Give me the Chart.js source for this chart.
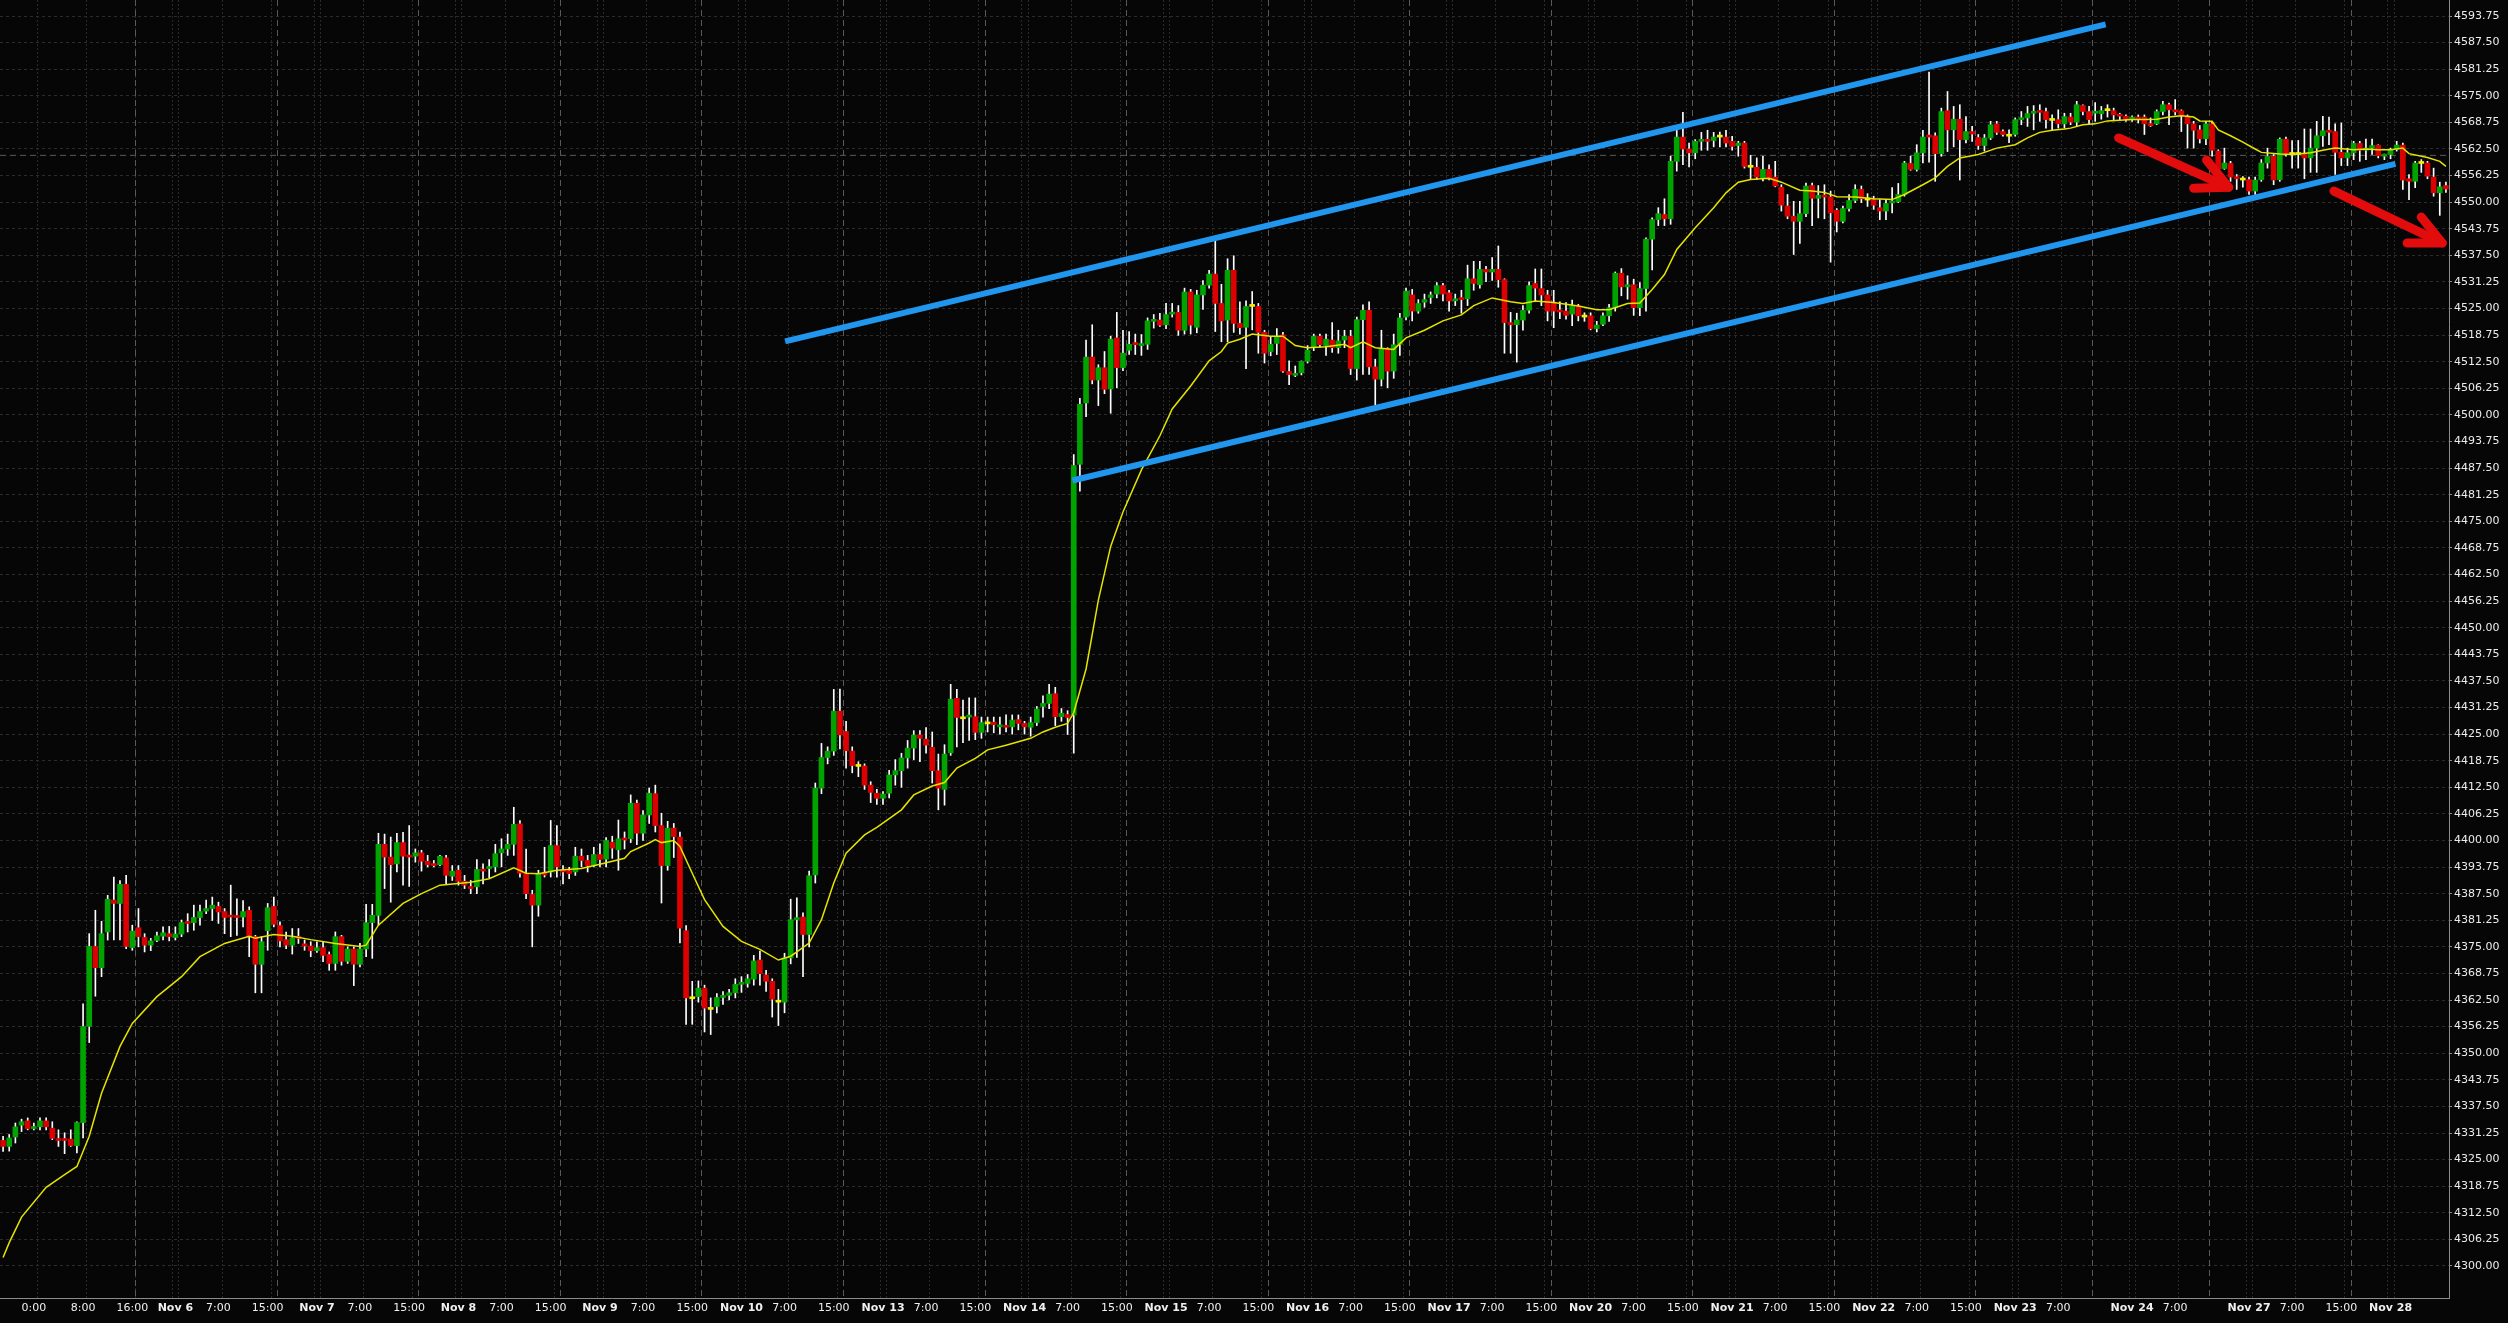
<!DOCTYPE html>
<html><head><meta charset="utf-8">
<script src="https://cdn.jsdelivr.net/npm/chart.js@4/dist/chart.umd.min.js"></script>
<style>html,body{margin:0;padding:0;background:#060606;overflow:hidden}#wrap{width:2508px;height:1323px}</style>
</head><body><div id="wrap"><canvas id="c" width="2508" height="1323"></canvas></div>
<script>
// hourly candles, index 0 = 19:00 Nov 2 session
const openP = [
4329.5,4328.1,4330.3,4333.1,4334.1,4332.3,4332.7,4334.1,4332.4,4329.8,
4329.8,4329.8,4328.3,4333.7,4356.3,4375.1,4370.1,4378.5,4386.0,4385.2,
4389.7,4374.8,4379.5,4377.2,4375.4,4376.5,4377.5,4378.1,4377.2,4378.0,
4380.9,4380.7,4381.9,4383.4,4384.0,4384.5,4383.3,4382.4,4382.3,4382.0,
4383.6,4377.4,4370.9,4378.8,4384.5,4380.0,4376.7,4375.4,4377.3,4375.7,
4375.2,4374.1,4374.8,4373.2,4371.1,4377.4,4371.6,4374.5,4370.9,4374.5,
4380.7,4382.4,4399.1,4396.1,4394.5,4399.5,4396.5,4396.3,4397.1,4395.1,
4394.4,4394.3,4395.9,4391.6,4393.0,4390.4,4389.1,4389.1,4393.2,4393.4,
4393.8,4397.1,4398.0,4399.1,4403.9,4392.3,4387.3,4384.8,4392.3,4392.6,
4398.8,4393.1,4392.9,4392.6,4396.3,4395.3,4394.1,4396.7,4395.6,4399.6,
4397.8,4400.4,4400.4,4408.75,4401.7,4406.0,4411.0,4403.5,4394.1,4402.9,
4400.8,4378.8,4362.8,4363.3,4365.3,4360.3,4361.0,4363.1,4363.6,4364.2,
4366.2,4366.4,4367.4,4371.9,4368.4,4366.9,4362.0,4362.0,4372.4,4381.4,
4382.0,4377.9,4391.9,4412.3,4419.5,4421.0,4430.4,4425.6,4421.0,4417.4,
4417.5,4413.0,4411.1,4409.9,4411.1,4415.4,4416.4,4419.4,4421.7,4424.8,
4423.8,4421.9,4416.4,4412.0,4420.6,4433.4,4428.6,4429.0,4429.1,4425.4,
4427.4,4427.8,4426.7,4427.0,4426.7,4428.4,4427.5,4426.6,4427.7,4431.5,
4432.2,4434.5,4429.1,4429.6,4429.5,4488.4,4502.8,4513.6,4508.2,4511.1,
4506.1,4518.1,4511.1,4515.2,4517.0,4516.3,4516.6,4522.0,4522.3,4521.2,
4523.7,4524.1,4519.9,4528.9,4520.6,4528.2,4530.5,4533.1,4526.2,4522.3,
4534.0,4521.5,4520.6,4525.5,4525.5,4519.4,4514.9,4516.8,4518.8,4510.2,
4509.3,4509.9,4512.6,4515.8,4518.5,4516.3,4517.6,4515.8,4517.6,4518.5,
4510.9,4522.4,4524.6,4511.3,4508.4,4515.6,4510.3,4516.6,4523.0,4528.2,
4524.4,4526.5,4527.6,4528.4,4530.4,4528.7,4526.8,4527.3,4527.3,4532.0,
4530.6,4534.2,4533.6,4534.2,4531.8,4521.7,4521.2,4522.3,4524.6,4530.9,
4529.7,4528.2,4526.2,4524.6,4524.4,4523.7,4525.6,4523.0,4523.3,4520.3,
4521.3,4523.3,4525.2,4533.3,4530.1,4530.6,4525.2,4529.7,4541.3,4545.9,
4547.1,4546.1,4559.6,4565.3,4562.5,4561.6,4564.3,4564.7,4564.5,4565.3,
4565.3,4564.3,4563.3,4563.9,4558.2,4558.2,4555.7,4557.7,4555.9,4553.5,
4549.1,4546.7,4545.5,4547.3,4553.9,4550.9,4551.6,4551.2,4548.1,4545.5,
4548.5,4550.4,4553.0,4550.5,4550.6,4548.7,4547.9,4549.8,4550.1,4551.8,
4559.1,4557.7,4561.6,4565.6,4565.6,4561.4,4571.5,4567.0,4569.5,4564.7,
4566.6,4565.2,4563.3,4565.1,4568.4,4566.6,4565.5,4565.9,4569.4,4569.8,
4570.9,4571.3,4571.3,4569.2,4569.4,4568.4,4570.0,4568.8,4572.7,4571.3,
4570.9,4570.8,4571.5,4571.5,4570.5,4570.2,4569.5,4570.0,4570.0,4568.4,
4568.4,4571.3,4572.9,4571.7,4571.5,4570.2,4568.4,4567.0,4564.9,4568.4,
4562.0,4557.9,4559.1,4555.9,4555.2,4555.3,4552.6,4555.3,4559.2,4560.8,
4555.3,4564.8,4561.2,4561.2,4561.2,4560.4,4562.7,4565.6,4566.9,4566.6,
4561.7,4560.4,4561.6,4563.8,4562.2,4562.7,4563.4,4560.8,4561.2,4562.4,
4563.4,4555.5,4554.9,4559.1,4559.2,4555.9,4552.2,4553.9];
const highP = [
4330.5,4330.9,4333.6,4334.5,4334.8,4333.6,4334.8,4334.8,4333.9,4332.0,
4331.3,4332.0,4333.9,4361.6,4378.1,4383.6,4381.0,4387.1,4391.4,4390.6,
4391.8,4380.1,4384.0,4378.1,4377.0,4378.5,4379.7,4379.8,4379.7,4381.3,
4382.8,4384.8,4384.8,4386.0,4386.7,4385.5,4384.0,4389.5,4386.3,4385.9,
4384.4,4377.7,4377.4,4385.2,4386.7,4380.9,4378.5,4379.3,4379.3,4376.6,
4376.2,4376.2,4376.2,4373.8,4378.5,4377.7,4375.0,4375.0,4375.8,4385.0,
4385.0,4401.7,4401.5,4400.8,4401.7,4401.9,4403.5,4398.0,4397.7,4396.5,
4395.3,4396.5,4396.5,4394.1,4394.1,4391.8,4390.6,4395.5,4394.5,4395.5,
4399.1,4400.4,4401.5,4407.8,4404.7,4398.0,4388.3,4393.0,4398.4,4404.7,
4403.5,4394.1,4393.7,4398.4,4398.0,4396.5,4398.4,4399.2,4400.7,4401.0,
4404.8,4402.0,4410.7,4409.5,4407.0,4412.3,4413.0,4406.4,4404.5,4404.0,
4402.0,4380.0,4366.9,4367.0,4366.0,4363.0,4364.0,4364.5,4365.0,4367.5,
4368.0,4368.5,4373.0,4374.0,4369.5,4367.5,4365.0,4373.5,4386.2,4386.5,
4383.0,4392.8,4413.5,4422.8,4422.0,4435.5,4435.6,4428.0,4422.0,4418.5,
4418.0,4413.8,4412.0,4411.5,4416.5,4419.0,4420.5,4423.5,4425.8,4425.8,
4426.5,4425.5,4420.3,4422.5,4436.7,4435.5,4433.0,4433.5,4433.5,4429.0,
4429.0,4429.0,4429.0,4429.5,4429.5,4429.5,4428.0,4429.0,4431.5,4434.0,
4436.7,4436.0,4431.0,4430.5,4490.7,4503.9,4517.6,4521.2,4511.8,4514.9,
4518.5,4524.1,4519.9,4519.6,4519.0,4518.9,4522.8,4523.6,4523.9,4526.2,
4526.2,4525.7,4529.8,4529.5,4529.3,4531.6,4534.0,4541.5,4530.7,4536.7,
4537.4,4526.6,4526.8,4529.0,4526.2,4519.9,4518.5,4520.3,4519.4,4512.7,
4511.5,4512.7,4516.3,4519.0,4519.0,4519.0,4521.7,4519.9,4519.9,4519.9,
4523.0,4525.9,4526.6,4513.1,4519.9,4515.8,4519.0,4523.9,4529.8,4529.5,
4527.1,4528.4,4528.9,4531.1,4530.9,4529.3,4528.4,4529.3,4535.2,4536.1,
4536.1,4534.9,4537.0,4539.7,4532.0,4524.1,4523.9,4525.7,4531.3,4534.3,
4534.3,4529.3,4529.3,4526.6,4526.4,4527.0,4526.0,4524.0,4524.0,4522.0,
4524.0,4526.0,4533.6,4534.4,4532.7,4531.9,4531.1,4541.6,4546.3,4548.7,
4550.8,4560.8,4567.0,4571.1,4563.9,4564.7,4566.4,4566.9,4566.4,4566.5,
4566.9,4565.5,4564.3,4564.3,4561.0,4560.4,4560.8,4558.8,4559.6,4554.1,
4551.8,4550.2,4550.2,4554.5,4554.5,4553.9,4554.1,4552.6,4548.5,4549.1,
4551.8,4554.1,4553.8,4552.0,4551.4,4550.6,4550.6,4553.4,4554.4,4559.6,
4560.8,4563.5,4566.9,4580.6,4566.3,4572.1,4576.0,4572.5,4572.9,4570.1,
4567.8,4565.9,4565.9,4569.0,4569.0,4567.0,4567.0,4569.8,4571.3,4572.5,
4572.7,4572.9,4572.1,4570.5,4571.7,4570.9,4570.9,4573.7,4572.9,4572.5,
4573.4,4572.5,4572.9,4572.1,4570.9,4570.5,4570.3,4570.5,4570.5,4569.8,
4571.7,4573.7,4573.3,4574.1,4571.7,4570.5,4569.0,4568.0,4569.0,4569.0,
4562.3,4562.7,4559.6,4556.5,4556.0,4555.9,4555.9,4560.0,4562.7,4561.2,
4565.1,4565.3,4564.5,4564.5,4567.2,4567.2,4569.0,4570.2,4570.0,4568.4,
4568.6,4562.7,4564.3,4564.3,4564.8,4564.8,4563.5,4561.3,4562.7,4564.3,
4563.9,4556.5,4559.6,4560.0,4559.6,4558.0,4554.7,4554.7];
const lowP = [
4326.9,4327.0,4328.9,4331.6,4332.0,4332.0,4332.0,4332.0,4329.7,4328.1,
4326.4,4328.1,4326.6,4330.1,4352.5,4363.4,4368.0,4376.6,4376.6,4376.6,
4374.6,4374.2,4375.0,4373.8,4374.1,4376.2,4376.6,4376.4,4376.6,4377.4,
4378.5,4378.9,4380.1,4382.8,4381.2,4380.5,4378.1,4377.4,4377.7,4379.7,
4372.7,4364.2,4364.2,4374.2,4379.7,4375.0,4374.6,4373.3,4375.8,4374.2,
4372.7,4373.7,4371.5,4369.5,4369.5,4370.7,4371.1,4365.9,4370.3,4372.7,
4372.3,4380.1,4388.7,4385.5,4392.6,4389.5,4389.2,4394.9,4392.8,4393.8,
4393.8,4394.1,4389.7,4390.6,4389.5,4388.7,4387.5,4387.5,4389.8,4391.2,
4392.6,4393.8,4396.5,4396.5,4391.4,4386.3,4375.0,4382.2,4391.4,4391.4,
4391.4,4389.8,4391.0,4391.8,4393.8,4392.6,4393.8,4393.8,4393.8,4395.8,
4393.0,4398.0,4399.5,4399.0,4400.0,4404.0,4402.0,4385.3,4393.0,4396.0,
4375.9,4356.8,4356.8,4362.0,4355.0,4354.4,4359.5,4361.5,4362.5,4363.0,
4364.3,4365.5,4366.0,4366.0,4364.5,4358.5,4356.5,4359.5,4371.0,4372.5,
4368.0,4375.0,4390.0,4411.0,4418.0,4420.0,4421.5,4417.0,4415.9,4415.0,
4412.0,4408.9,4408.5,4408.5,4410.0,4413.0,4412.5,4417.0,4419.0,4418.5,
4420.5,4413.5,4407.2,4408.3,4420.0,4422.0,4423.0,4423.5,4423.7,4424.0,
4425.5,4425.3,4425.0,4425.5,4425.0,4426.0,4425.0,4424.5,4427.0,4429.0,
4431.0,4427.0,4428.0,4424.9,4420.5,4482.1,4499.6,4507.3,4502.2,4505.0,
4500.4,4506.4,4510.4,4514.2,4514.2,4514.0,4515.4,4520.4,4520.8,4520.3,
4523.0,4518.7,4519.0,4519.0,4519.3,4524.8,4529.8,4519.6,4517.2,4517.2,
4519.4,4519.0,4510.9,4520.0,4514.5,4512.2,4513.9,4514.2,4510.0,4507.1,
4509.0,4509.4,4512.2,4515.1,4515.9,4514.0,4514.7,4514.5,4515.8,4509.5,
4508.2,4509.5,4509.5,4502.4,4506.8,4506.4,4508.6,4514.0,4522.3,4522.1,
4523.9,4525.3,4526.2,4527.5,4526.8,4524.4,4525.7,4523.9,4525.7,4529.3,
4529.8,4531.3,4531.6,4530.0,4514.5,4514.5,4512.4,4519.9,4523.9,4526.6,
4525.7,4522.1,4520.5,4522.6,4522.5,4521.0,4522.1,4522.0,4520.0,4519.5,
4521.0,4522.0,4524.4,4528.0,4527.2,4523.4,4523.3,4524.4,4534.1,4544.5,
4544.5,4544.8,4557.3,4558.8,4558.3,4560.2,4562.2,4562.2,4563.0,4563.0,
4563.0,4562.2,4560.8,4558.0,4555.5,4555.3,4555.0,4555.2,4553.6,4547.9,
4546.1,4537.7,4540.3,4546.6,4544.5,4546.3,4546.1,4535.9,4543.0,4545.1,
4547.9,4549.9,4549.9,4549.0,4548.3,4545.9,4545.9,4547.5,4549.9,4551.4,
4557.5,4557.3,4559.2,4559.4,4554.9,4560.8,4561.9,4563.0,4555.2,4563.9,
4564.3,4562.4,4562.0,4564.7,4565.9,4565.5,4564.0,4565.5,4568.2,4567.8,
4567.0,4569.0,4567.4,4567.0,4567.4,4567.4,4568.2,4567.8,4570.5,4568.2,
4569.0,4569.5,4570.0,4569.4,4569.4,4569.0,4569.0,4568.6,4565.9,4567.8,
4568.2,4570.5,4568.2,4570.5,4566.6,4562.7,4562.7,4563.9,4563.5,4560.8,
4556.1,4557.7,4554.9,4553.0,4553.5,4551.8,4551.8,4554.9,4558.0,4554.1,
4554.9,4560.8,4558.0,4558.0,4555.5,4557.0,4557.0,4563.1,4563.5,4556.5,
4558.6,4558.6,4560.0,4559.6,4560.0,4561.2,4560.4,4560.0,4560.2,4562.0,
4553.0,4550.6,4553.4,4557.0,4555.5,4551.4,4546.9,4552.3];
const closeP = [
4328.1,4330.1,4332.7,4333.9,4332.3,4332.7,4334.1,4332.7,4330.0,4329.5,
4329.5,4328.3,4333.7,4356.3,4375.1,4370.1,4378.1,4386.2,4385.2,4389.7,
4375.1,4378.7,4377.4,4375.4,4376.4,4377.6,4378.3,4377.4,4378.0,4380.7,
4380.5,4381.9,4383.3,4384.0,4384.8,4383.2,4381.9,4382.0,4381.9,4383.3,
4377.4,4370.9,4376.2,4384.2,4380.3,4376.4,4375.4,4377.1,4377.0,4375.2,
4374.1,4374.8,4373.0,4371.1,4377.4,4371.6,4374.5,4370.9,4374.5,4380.7,
4382.4,4399.1,4396.1,4394.3,4399.5,4396.3,4396.1,4397.1,4395.1,4394.3,
4394.1,4396.3,4391.8,4392.8,4390.4,4389.5,4388.7,4393.2,4392.8,4393.8,
4396.9,4398.0,4399.1,4403.8,4392.3,4387.5,4384.8,4392.2,4391.9,4398.8,
4393.8,4392.6,4392.2,4396.3,4395.3,4394.1,4396.7,4395.5,4400.0,4398.2,
4400.4,4400.1,4408.75,4401.7,4406.0,4411.1,4403.5,4394.1,4402.9,4400.9,
4379.4,4363.0,4362.8,4365.3,4360.6,4360.3,4363.1,4363.6,4364.2,4366.2,
4366.5,4367.5,4371.7,4368.7,4366.9,4362.7,4362.0,4372.4,4381.4,4381.8,
4377.9,4391.7,4412.3,4419.5,4421.0,4430.4,4424.8,4421.1,4417.6,4417.4,
4413.0,4411.3,4409.9,4410.9,4415.4,4416.4,4419.4,4421.7,4424.8,4424.0,
4422.4,4416.4,4412.3,4420.3,4433.2,4428.9,4428.6,4429.1,4425.4,4427.7,
4427.4,4427.2,4427.0,4426.6,4428.3,4427.5,4426.7,4427.7,4430.9,4432.2,
4434.4,4429.1,4429.9,4428.9,4488.1,4502.5,4513.6,4508.2,4511.1,4506.0,
4517.8,4511.1,4514.5,4516.6,4516.5,4516.6,4522.1,4522.3,4521.1,4523.6,
4524.1,4519.9,4528.9,4521.1,4528.2,4530.5,4533.1,4526.2,4522.1,4534.0,
4521.5,4520.5,4525.5,4525.5,4519.4,4514.5,4516.6,4518.5,4510.3,4509.5,
4509.6,4512.6,4515.2,4518.5,4516.5,4517.8,4515.8,4517.4,4518.5,4510.9,
4522.4,4524.6,4511.3,4508.4,4515.6,4510.3,4516.5,4522.8,4529.1,4524.4,
4526.2,4527.1,4528.2,4530.4,4528.4,4526.8,4527.3,4527.1,4532.0,4530.9,
4534.2,4533.6,4534.2,4531.8,4521.7,4521.2,4522.3,4524.6,4530.4,4529.8,
4528.2,4524.4,4524.4,4524.2,4523.4,4525.6,4523.3,4523.0,4520.3,4521.1,
4523.3,4525.2,4533.3,4530.1,4530.6,4525.2,4529.7,4541.3,4545.9,4547.3,
4546.1,4559.6,4565.3,4562.5,4561.6,4564.3,4564.7,4564.3,4565.3,4565.3,
4563.9,4563.1,4563.9,4558.4,4558.2,4555.9,4557.7,4555.5,4553.8,4549.3,
4546.7,4545.5,4547.3,4553.8,4550.9,4551.6,4551.2,4547.5,4545.5,4548.5,
4550.4,4553.0,4550.8,4550.5,4549.3,4547.9,4549.7,4550.1,4551.8,4559.2,
4557.7,4561.6,4565.3,4565.3,4561.4,4571.3,4567.0,4569.5,4564.7,4566.6,
4566.0,4563.3,4565.1,4568.2,4566.4,4565.9,4565.5,4569.4,4569.8,4570.8,
4571.3,4571.1,4569.4,4569.2,4568.4,4570.1,4568.8,4572.9,4571.3,4569.4,
4571.1,4571.5,4571.5,4570.5,4570.2,4569.5,4570.0,4569.5,4568.4,4568.0,
4571.3,4572.9,4571.7,4571.2,4570.3,4568.4,4566.9,4564.9,4568.4,4562.2,
4557.8,4559.2,4555.9,4555.5,4555.2,4552.6,4555.2,4559.2,4560.8,4555.2,
4564.8,4561.4,4561.2,4561.2,4560.4,4562.7,4565.6,4566.8,4566.4,4561.7,
4560.4,4561.6,4563.8,4562.2,4562.7,4563.3,4560.9,4561.1,4562.2,4563.4,
4555.2,4554.9,4559.2,4559.1,4556.1,4552.2,4553.6,4553.1];

// moving average (candle index -> value)
const maIdx = [0,1,3,7,10,12,14,16,19,21,25,29,32,36,40,41,44,47,50,54,58,59,61,65,68,71,76,79,83,85,87,90,94,97,101,102,105,106,107,109,110,112,114,117,120,123,126,128,131,133,135,137,140,142,146,148,151,153,155,158,160,163,167,169,171,173,174,176,178,180,182,185,188,190,193,196,198,199,201,203,206,208,210,212,215,218,219,221,223,226,228,231,234,237,239,242,245,247,249,252,256,259,261,264,266,268,270,272,275,278,280,282,284,287,289,292,294,296,298,301,304,307,309,312,314,316,318,321,322,324,327,329,331,333,335,336,338,340,342,346,348,350,352,354,356,357,359,360,362,364,366,367,370,372,375,377,379,382,384,386,388,390,391,394,396,397];
const maVal = [4302.0,4305.5,4311.5,4318.5,4321.5,4323.4,4330.5,4340.6,4351.6,4357.0,4363.3,4368.0,4372.7,4375.8,4377.5,4377.0,4377.9,4377.5,4376.7,4375.8,4375.1,4375.4,4380.1,4385.2,4387.5,4389.5,4390.2,4391.0,4393.6,4392.3,4392.2,4393.0,4393.4,4394.4,4395.8,4397.4,4399.4,4400.2,4399.5,4400.0,4398.6,4392.3,4386.1,4379.8,4376.3,4374.4,4371.9,4372.8,4375.9,4381.4,4390.0,4397.0,4401.3,4403.1,4407.2,4410.7,4412.8,4413.6,4417.0,4419.3,4421.3,4422.4,4424.0,4425.5,4426.6,4427.5,4430.0,4440.3,4456.5,4469.1,4477.2,4487.1,4495.1,4501.4,4506.8,4512.7,4514.9,4516.9,4517.8,4519.0,4518.5,4518.5,4516.3,4515.8,4516.0,4516.6,4515.8,4517.2,4515.8,4515.4,4518.1,4519.9,4522.1,4523.5,4525.7,4527.5,4526.6,4526.2,4526.8,4526.4,4525.6,4524.7,4524.7,4526.2,4526.3,4529.5,4533.0,4538.9,4544.0,4548.7,4552.2,4554.7,4555.3,4555.6,4554.7,4552.8,4552.6,4552.3,4551.3,4551.2,4550.8,4550.6,4551.8,4554.1,4555.7,4558.4,4560.4,4561.2,4561.7,4562.7,4563.5,4565.1,4566.4,4566.9,4567.2,4567.4,4568.2,4568.4,4569.1,4569.4,4569.4,4569.5,4570.0,4570.3,4570.0,4569.1,4569.0,4567.0,4565.6,4564.1,4562.5,4561.7,4561.3,4561.2,4561.6,4562.2,4562.7,4562.3,4562.5,4562.3,4562.3,4562.7,4561.4,4560.5,4559.6,4558.4];

// x-axis tick labels (candle index -> text)
const tickIdx = [5,13,21,28,35,43,51,58,66,74,81,89,97,104,112,120,127,135,143,150,158,166,173,181,189,196,204,212,219,227,235,242,250,258,265,273,281,288,296,304,311,319,327,334,346,353,365,372,380,388];
const tickText = ["0:00","8:00","16:00","Nov 6","7:00","15:00","Nov 7","7:00","15:00","Nov 8","7:00","15:00","Nov 9","7:00","15:00","Nov 10","7:00","15:00","Nov 13","7:00","15:00","Nov 14","7:00","15:00","Nov 15","7:00","15:00","Nov 16","7:00","15:00","Nov 17","7:00","15:00","Nov 20","7:00","15:00","Nov 21","7:00","15:00","Nov 22","7:00","15:00","Nov 23","7:00","Nov 24","7:00","Nov 27","7:00","15:00","Nov 28"];
const sessionStart = [22,45,68,91,114,137,160,183,206,229,252,275,298,321,340,359,382];
const yTicks = [4300,4306.25,4312.5,4318.75,4325,4331.25,4337.5,4343.75,4350,4356.25,4362.5,4368.75,4375,4381.25,4387.5,4393.75,4400,4406.25,4412.5,4418.75,4425,4431.25,4437.5,4443.75,4450,4456.25,4462.5,4468.75,4475,4481.25,4487.5,4493.75,4500,4506.25,4512.5,4518.75,4525,4531.25,4537.5,4543.75,4550,4556.25,4562.5,4568.75,4575,4581.25,4587.5,4593.75];

// drawn annotations, in data space [candle index, price]
const upperTrend = [[127.1,4517.3],[341.7,4591.8]];
const lowerTrend = [[173.8,4484.6],[388.8,4559.0]];
const arrow1Shaft = [[343.8,4565.1],[361.7,4553.5]];
const arrow1Head = [[358.1,4559.9],[361.7,4553.5],[356.0,4553.3]];
const arrow2Shaft = [[378.8,4552.6],[396.4,4540.4]];
const arrow2Head = [[393.0,4546.5],[396.4,4540.4],[390.7,4540.4]];
const priceLine = 4561.0;

const GREEN='#00a300', RED='#dd0000', DOJI='#f2f200';
const pts = a => a.map(p => ({x:p[0], y:p[1]}));
const candleColor = i => closeP[i] > openP[i] ? GREEN : (closeP[i] < openP[i] ? RED : DOJI);

const minorLines = [];
tickIdx.forEach((v,k) => { minorLines.push(v+0.5); if (tickText[k].startsWith('Nov')) minorLines.push(v-0.5); });
const majorLines = sessionStart.map(s => s-0.5);

const vgrid = {
  id:'vgrid',
  beforeDatasetsDraw(chart){
    const {ctx, chartArea:a, scales:{x}} = chart;
    ctx.save();
    ctx.beginPath(); ctx.rect(a.left,a.top,a.right-a.left,a.bottom-a.top); ctx.clip();
    ctx.lineWidth = 1;
    ctx.strokeStyle = '#2a2a2a'; ctx.setLineDash([2,2]);
    minorLines.forEach(v => { const px = Math.round(x.getPixelForValue(v))+0.5; ctx.beginPath(); ctx.moveTo(px,a.top); ctx.lineTo(px,a.bottom); ctx.stroke(); });
    ctx.strokeStyle = '#595959'; ctx.setLineDash([6,4]);
    majorLines.forEach(v => { const px = Math.round(x.getPixelForValue(v))+0.5; ctx.beginPath(); ctx.moveTo(px,a.top); ctx.lineTo(px,a.bottom); ctx.stroke(); });
    ctx.restore();
  }
};

const lineDs = (data, color, width, order, extra) => Object.assign({type:'line', data, borderColor:color, borderWidth:width, pointRadius:0, fill:false, tension:0, order}, extra||{});

new Chart(document.getElementById('c'), {
  data: {
    datasets: [
      lineDs([{x:-0.5,y:priceLine},{x:397.5,y:priceLine}], '#5a5a5a', 1, 20, {borderDash:[6,4]}),
      {type:'bar', data: openP.map((_,i)=>({x:i, y:[lowP[i], highP[i]]})), backgroundColor:'#ffffff', barThickness:1, grouped:false, borderWidth:0, order:10},
      {type:'bar', data: openP.map((o,i)=>({x:i, y:[o, closeP[i]]})), backgroundColor: c => candleColor(c.dataIndex), barThickness:5, minBarLength:2, grouped:false, borderWidth:0, order:9},
      lineDs(maIdx.map((x,k)=>({x, y:maVal[k]})), '#e4e400', 1.5, 5),
      lineDs(pts(upperTrend), '#2196ee', 6, 3),
      lineDs(pts(lowerTrend), '#2196ee', 6, 3),
      lineDs(pts(arrow1Shaft), '#e20c0c', 9, 1, {borderCapStyle:'round', borderJoinStyle:'round'}),
      lineDs(pts(arrow1Head), '#e20c0c', 9, 1, {borderCapStyle:'round', borderJoinStyle:'round'}),
      lineDs(pts(arrow2Shaft), '#e20c0c', 9, 1, {borderCapStyle:'round', borderJoinStyle:'round'}),
      lineDs(pts(arrow2Head), '#e20c0c', 9, 1, {borderCapStyle:'round', borderJoinStyle:'round'})
    ]
  },
  options: {
    responsive:false, animation:false, devicePixelRatio:1,
    layout:{padding:0},
    plugins:{legend:{display:false}, tooltip:{enabled:false}},
    scales:{
      x:{ type:'linear', position:'bottom', min:-0.5, max:397.5, offset:false,
        afterBuildTicks: s => { s.ticks = tickIdx.map(v=>({value:v})); },
        afterFit: s => { s.height = 25; s.paddingLeft = 0; s.paddingRight = 0; },
        grid:{display:false, drawTicks:false},
        border:{display:true, color:'#8c8c8c', width:1},
        ticks:{ autoSkip:false, maxRotation:0, minRotation:0, padding:4, color:'#f0f0f0',
          font: c => ({family:'DejaVu Sans', size:11, weight: (tickText[c.index]||'').startsWith('Nov') ? 'bold' : 'normal'}),
          callback: (v,i) => tickText[i] }
      },
      y:{ type:'linear', position:'right', min:4292.48, max:4597.51,
        afterBuildTicks: s => { s.ticks = yTicks.map(v=>({value:v})); },
        afterFit: s => { s.width = 59; s.paddingTop = 0; s.paddingBottom = 0; },
        grid:{color:'#2c2c2c', lineWidth:1, drawTicks:true, tickLength:3, tickColor:'#8c8c8c'},
        border:{display:true, color:'#8c8c8c', width:1, dash:[3,3]},
        ticks:{ padding:2, color:'#ececec', font:{family:'DejaVu Sans', size:11}, callback: v => Number(v).toFixed(2) }
      }
    }
  },
  plugins:[vgrid]
});
</script>
</body></html>
